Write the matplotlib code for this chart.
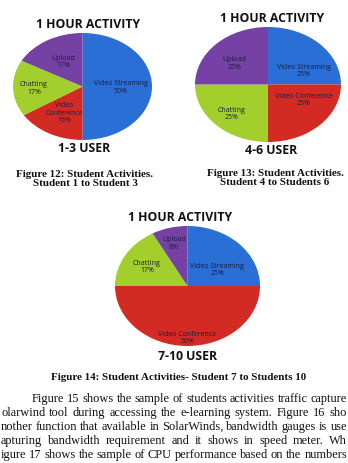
import numpy as np
import matplotlib
matplotlib.use("Agg")
import matplotlib.pyplot as plt

W, H = 348, 464

activities = ["Video Streaming", "Video Conference", "Chatting", "Upload"]
colors = ["#2a6fd6", "#d42a24", "#a3cf2c", "#7541a4"]

users_1_3 = [50, 16, 17, 17]
users_4_6 = [25, 25, 25, 25]
users_7_10 = [25, 50, 17, 8]

titles = ["1 HOUR ACTIVITY", "1 HOUR ACTIVITY", "1 HOUR ACTIVITY"]
groups = ["1-3 USER", "4-6 USER", "7-10 USER"]
captions = [
    "Figure 12: Student Activities.\nStudent 1 to Student 3",
    "Figure 13: Student Activities.\nStudent 4 to Students 6",
    "Figure 14: Student Activities- Student 7 to Students 10",
]

# visible part of the page text (the scan is cropped at both sides)
body_lines = [
    "Figure 15 shows the sample of students activities traffic capture",
    "olarwind tool during accessing the e-learning system. Figure 16 sho",
    "nother function that available in SolarWinds, bandwidth gauges is use",
    "apturing bandwidth requirement and it shows in speed meter. Wh",
    "igure 17 shows the sample of CPU performance based on the numbers",
]

fig = plt.figure(figsize=(W / 100, H / 100), dpi=100)
fig.patch.set_facecolor("white")


def px_axes(x0, y0, x1, y1):
    return fig.add_axes([x0 / W, 1 - y1 / H, (x1 - x0) / W, (y1 - y0) / H])


def fx(x):
    return x / W


def fy(y):
    return 1 - y / H


def draw_pie(box, values, dists, shifts):
    ax = px_axes(*box)
    wedges, _ = ax.pie(values, colors=colors, startangle=90, counterclock=False,
                       radius=1, wedgeprops=dict(linewidth=0))
    ax.set_aspect("auto")
    ax.set_xlim(-1, 1)
    ax.set_ylim(-1, 1)
    for w, name, v, d, s in zip(wedges, activities, values, dists, shifts):
        th = np.deg2rad((w.theta1 + w.theta2) / 2 + s)
        label = name.replace("Video Conference", "Video\nConference") if v < 20 else name
        ax.text(d * np.cos(th), d * np.sin(th), f"{label}\n{v}%", ha="center", va="center",
                fontsize=5, family="Open Sans", color="#1c1c3c", linespacing=1.1)
    return ax


title_kw = dict(family="Open Sans", weight="bold", fontsize=8.8, color="#111111",
                ha="center", va="center")
cap_kw = dict(family="Liberation Serif", weight="bold", fontsize=7.9, color="#111111",
              ha="center", va="center", linespacing=1.05)

# chart 1
draw_pie((13, 34, 152, 141), users_1_3, [0.55, 0.55, 0.7, 0.55], [0, 0, 0, 0])
fig.text(fx(88), fy(25), titles[0], **title_kw)
fig.text(fx(84), fy(148), groups[0], **title_kw)
fig.text(fx(85), fy(179), captions[0], **cap_kw)

# chart 2
draw_pie((195, 28, 341, 143), users_4_6, [0.55, 0.55, 0.7, 0.6], [-18, 18, 0, 5])
fig.text(fx(272), fy(19), titles[1], **title_kw)
fig.text(fx(271), fy(150), groups[1], **title_kw)
fig.text(fx(275), fy(178), captions[1], **cap_kw)

# chart 3
draw_pie((115, 227, 260, 347), users_7_10, [0.5, 0.85, 0.65, 0.75], [-10, 0, 0, 0])
fig.text(fx(180), fy(218), titles[2], **title_kw)
fig.text(fx(188), fy(357), groups[2], **title_kw)
fig.text(fx(179), fy(378), captions[2], **cap_kw)

# body text, justified between a left and right pixel edge
body_left = [32, 1, 1, 1, 1]
body_right = [347, 347, 347, 347, 347]
body_y = [399, 413, 427, 441, 455]
renderer = fig.canvas.get_renderer()
for line, x0, x1, y in zip(body_lines, body_left, body_right, body_y):
    words = line.split()
    texts = [fig.text(0, fy(y), w_, family="Liberation Serif", fontsize=8.9,
                      color="#111111", va="center") for w_ in words]
    widths = [t.get_window_extent(renderer).width for t in texts]
    gap = (x1 - x0 - sum(widths)) / (len(words) - 1)
    x = x0
    for t, wd in zip(texts, widths):
        t.set_x(fx(x))
        x += wd + gap

fig.savefig("out.png", dpi=100)
